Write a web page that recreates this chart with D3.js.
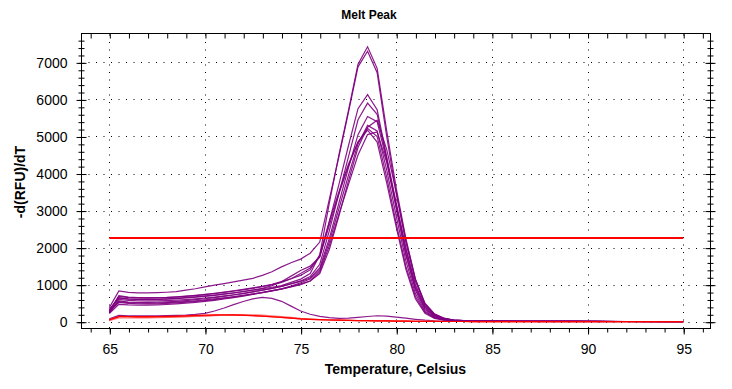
<!DOCTYPE html>
<html lang="en">
<head>
<meta charset="UTF-8">
<title>Melt Peak</title>
<script src="https://d3js.org/d3.v7.min.js"></script>
<style>
  body { margin: 0; background: #fff; }
  text { font-family: "Liberation Sans", Arial, sans-serif; }
</style>
</head>
<body>
<div id="chart"></div>
<script>
// temperature steps (Celsius)
const temps = [65, 65.5, 66, 66.5, 67, 67.5, 68, 68.5, 69, 69.5,
  70, 70.5, 71, 71.5, 72, 72.5, 73, 73.5, 74, 74.5,
  75, 75.5, 76, 76.5, 77, 77.5, 78, 78.5, 79, 79.5,
  80, 80.5, 81, 81.5, 82, 82.5, 83, 83.5, 84, 84.5,
  85, 85.5, 86, 86.5, 87, 87.5, 88, 88.5, 89, 89.5,
  90, 90.5, 91, 91.5, 92, 92.5, 93, 93.5, 94, 94.5, 95];

// -d(RFU)/dT, purple wells
const well1 = [330, 640, 610, 600, 600, 605, 615, 630, 650, 670,
  695, 720, 750, 780, 815, 850, 890, 930, 975, 1060,
  1150, 1300, 1800, 3200, 4500, 5700, 6950, 7420, 6840, 5150,
  3600, 2250, 1150, 480, 200, 90, 45, 30, 22, 18,
  15, 14, 13, 12, 12, 11, 10, 10, 9, 9,
  8, 8, 7, 7, 6, 6, 5, 5, 5, 4, 4];
const well2 = [380, 830, 790, 780, 780, 785, 795, 810, 850, 890,
  940, 985, 1030, 1075, 1120, 1170, 1250, 1350, 1480, 1590,
  1690, 1850, 2150, 3300, 4450, 5650, 6880, 7300, 6720, 5000,
  3450, 2150, 1100, 460, 190, 85, 42, 28, 21, 17,
  15, 13, 12, 12, 11, 10, 10, 9, 9, 8,
  8, 7, 7, 6, 6, 6, 5, 5, 4, 4, 4];
const well3 = [300, 680, 650, 640, 635, 640, 650, 665, 685, 705,
  730, 760, 790, 825, 860, 900, 945, 995, 1060, 1160,
  1300, 1450, 1750, 2700, 3700, 4750, 5750, 6130, 5720, 4450,
  3200, 2000, 1000, 420, 170, 80, 40, 27, 20, 16,
  14, 13, 12, 11, 10, 10, 9, 9, 8, 8,
  7, 7, 6, 6, 6, 5, 5, 5, 4, 4, 4];
const well4 = [260, 560, 530, 520, 520, 525, 535, 550, 570, 595,
  620, 650, 685, 720, 760, 805, 850, 900, 955, 1025,
  1100, 1220, 1550, 2450, 3450, 4450, 5450, 5900, 5600, 4400,
  3100, 1850, 900, 360, 140, 70, 36, 25, 19, 15,
  13, 12, 11, 11, 10, 9, 9, 8, 8, 7,
  7, 7, 6, 6, 5, 5, 5, 4, 4, 4, 3];
const well5 = [240, 600, 575, 565, 560, 562, 570, 582, 598, 618,
  640, 665, 695, 728, 765, 805, 850, 900, 955, 1020,
  1090, 1180, 1450, 2250, 3200, 4150, 5050, 5540, 5400, 4350,
  3050, 1800, 850, 330, 130, 65, 34, 24, 18, 15,
  13, 12, 11, 10, 10, 9, 9, 8, 8, 7,
  7, 6, 6, 6, 5, 5, 5, 4, 4, 4, 3];
const well6 = [280, 520, 495, 485, 482, 485, 495, 508, 525, 545,
  570, 598, 630, 665, 702, 742, 785, 830, 880, 945,
  1020, 1100, 1300, 1950, 2850, 3800, 4700, 5250, 5440, 4650,
  3500, 2200, 1150, 500, 210, 95, 46, 30, 22, 18,
  15, 14, 13, 12, 11, 11, 10, 9, 9, 8,
  8, 7, 7, 6, 6, 6, 5, 5, 5, 4, 4];
const well7 = [220, 470, 455, 450, 450, 455, 465, 480, 500, 522,
  548, 578, 612, 650, 690, 735, 782, 832, 885, 960,
  1050, 1150, 1400, 2150, 3050, 3950, 4800, 5300, 5150, 4100,
  2850, 1650, 760, 290, 110, 55, 30, 21, 17, 14,
  12, 11, 10, 10, 9, 9, 8, 8, 7, 7,
  6, 6, 6, 5, 5, 5, 4, 4, 4, 3, 3];
const well8 = [310, 640, 615, 605, 600, 603, 612, 625, 642, 662,
  685, 712, 742, 775, 812, 852, 900, 970, 1080, 1230,
  1380, 1500, 1750, 2600, 3450, 4200, 4850, 5220, 5000, 3900,
  2650, 1500, 680, 260, 100, 50, 28, 20, 16, 13,
  12, 11, 10, 10, 9, 8, 8, 7, 7, 7,
  6, 6, 5, 5, 5, 4, 4, 4, 4, 3, 3];
const well9 = [270, 700, 665, 652, 648, 650, 658, 672, 690, 712,
  738, 768, 800, 835, 872, 912, 955, 1010, 1080, 1160,
  1250, 1400, 1800, 2700, 3500, 4250, 4850, 5170, 4850, 3750,
  2550, 1420, 620, 230, 90, 45, 26, 19, 15, 13,
  11, 10, 10, 9, 9, 8, 8, 7, 7, 6,
  6, 6, 5, 5, 5, 4, 4, 4, 3, 3, 3];
const well10 = [250, 540, 515, 505, 502, 505, 514, 527, 544, 564,
  588, 615, 645, 678, 714, 753, 795, 840, 888, 940,
  1000, 1100, 1350, 2050, 2900, 3700, 4500, 5050, 5120, 4300,
  3150, 1950, 950, 400, 160, 75, 38, 26, 20, 16,
  14, 13, 12, 11, 10, 10, 9, 9, 8, 8,
  7, 7, 6, 6, 6, 5, 5, 5, 4, 4, 4];
// the one purple well with the small early bump
const well11 = [80, 170, 160, 155, 155, 158, 163, 170, 180, 198,
  225, 290, 370, 460, 545, 615, 655, 630, 550, 420,
  290, 200, 145, 110, 92, 95, 115, 140, 160, 150,
  125, 95, 65, 40, 25, 16, 11, 9, 8, 7,
  6, 6, 5, 5, 5, 4, 4, 4, 4, 3,
  3, 3, 3, 3, 2, 2, 2, 2, 2, 2, 2];

// red wells (negatives)
const redA = [50, 145, 140, 138, 138, 140, 145, 150, 160, 170,
  180, 185, 188, 186, 178, 165, 150, 134, 117, 95,
  75, 62, 54, 46, 40, 35, 31, 28, 25, 21,
  17, 13, 10, 8, 7, 6, 5, 5, 4, 4,
  4, 3, 3, 3, 3, 3, 2, 2, 2, 2,
  2, 2, 2, 2, 2, 1, 1, 1, 1, 1, 1];
const redB = [30, 100, 100, 102, 105, 110, 115, 122, 130, 140,
  150, 165, 178, 185, 188, 185, 175, 160, 140, 115,
  90, 72, 58, 48, 41, 36, 32, 28, 25, 21,
  17, 13, 10, 8, 7, 6, 5, 5, 4, 4,
  4, 3, 3, 3, 3, 3, 2, 2, 2, 2,
  2, 2, 2, 2, 2, 1, 1, 1, 1, 1, 1];
const redC = [45, 130, 128, 126, 126, 128, 132, 138, 145, 155,
  165, 172, 176, 176, 170, 160, 147, 132, 115, 96,
  78, 64, 54, 46, 40, 35, 31, 28, 25, 21,
  17, 13, 10, 8, 7, 6, 5, 5, 4, 4,
  4, 3, 3, 3, 3, 3, 2, 2, 2, 2,
  2, 2, 2, 2, 2, 1, 1, 1, 1, 1, 1];

const threshold = 2260;

const xTickLabels = [65, 70, 75, 80, 85, 90, 95];
const yTickLabels = [0, 1000, 2000, 3000, 4000, 5000, 6000, 7000];

const purpleWells = [well1, well2, well3, well4, well5, well6, well7, well8, well9, well10, well11];
const redWells = [redB, redC, redA];
const redColors = ["#ff7a7a", "#ff3030", "#ff0000"];

const W = 732, H = 389;
const pLeft = 81, pRight = 710, pTop = 33, pBottom = 328;

const svg = d3.select("#chart").append("svg")
    .attr("width", W)
    .attr("height", H);

const x = d3.scaleLinear().domain([63.52, 96.4]).range([pLeft, pRight]);
const y = d3.scaleLinear().domain([-170, 7793]).range([pBottom, pTop]);

svg.append("defs").append("clipPath")
    .attr("id", "clip")
    .append("rect")
    .attr("x", pLeft).attr("y", pTop)
    .attr("width", pRight - pLeft).attr("height", pBottom - pTop);

// dotted grid
const grid = svg.append("g").attr("stroke", "#000").attr("stroke-width", 1)
    .attr("stroke-dasharray", "1,6.5");
grid.selectAll(".gx").data(xTickLabels).join("line")
    .attr("x1", d => Math.round(x(d)) + 0.5).attr("x2", d => Math.round(x(d)) + 0.5)
    .attr("y1", pBottom).attr("y2", pTop);
grid.selectAll(".gy").data(yTickLabels).join("line")
    .attr("y1", d => Math.round(y(d)) + 0.5).attr("y2", d => Math.round(y(d)) + 0.5)
    .attr("x1", pLeft).attr("x2", pRight);

// curves
const line = d3.line()
    .x((d, i) => x(temps[i]))
    .y(d => y(d));

const curves = svg.append("g").attr("clip-path", "url(#clip)").attr("fill", "none");

curves.selectAll(".purple").data(purpleWells).join("path")
    .attr("d", line)
    .attr("stroke", "#800080")
    .attr("stroke-opacity", 0.9)
    .attr("stroke-width", 1.2);

curves.selectAll(".red").data(redWells).join("path")
    .attr("d", line)
    .attr("stroke", (d, i) => redColors[i])
    .attr("stroke-width", 1.2);

curves.append("line")
    .attr("x1", x(65)).attr("x2", x(95))
    .attr("y1", y(threshold)).attr("y2", y(threshold))
    .attr("stroke", "#ff0000")
    .attr("stroke-width", 2);

// frame
svg.append("rect")
    .attr("x", pLeft + 0.5).attr("y", pTop + 0.5)
    .attr("width", pRight - pLeft).attr("height", pBottom - pTop)
    .attr("fill", "none").attr("stroke", "#000");

// axes with ticks
const xMinor = d3.range(64, 97);
const yMinor = d3.range(0, 7800, 200);

function ticksStyle(g) {
    g.select(".domain").remove();
    g.selectAll("line").attr("stroke", "#000");
    g.selectAll("text").attr("fill", "#000").style("font-size", "14px");
}

// bottom
svg.append("g").attr("transform", `translate(0.5,${pBottom + 0.5})`)
    .call(d3.axisBottom(x).tickValues(xMinor).tickSize(4).tickFormat(""))
    .call(ticksStyle);
svg.append("g").attr("transform", `translate(0.5,${pBottom + 0.5})`)
    .call(d3.axisBottom(x).tickValues(xTickLabels).tickSize(6).tickPadding(10).tickFormat(d3.format("d")))
    .call(ticksStyle);
// top (inward)
svg.append("g").attr("transform", `translate(0.5,${pTop + 0.5})`)
    .call(d3.axisBottom(x).tickValues(xMinor).tickSize(5).tickFormat(""))
    .call(ticksStyle);

// left (crossing the frame)
svg.append("g").attr("transform", `translate(${pLeft + 0.5},0.5)`)
    .call(d3.axisLeft(y).tickValues(yMinor).tickSize(3).tickFormat(""))
    .call(ticksStyle)
    .selectAll("line").attr("x1", 3);
svg.append("g").attr("transform", `translate(${pLeft + 0.5},0.5)`)
    .call(d3.axisLeft(y).tickValues(yTickLabels).tickSize(5).tickPadding(9).tickFormat(d3.format("d")))
    .call(ticksStyle)
    .selectAll("line").attr("x1", 5);
// right
svg.append("g").attr("transform", `translate(${pRight + 0.5},0.5)`)
    .call(d3.axisRight(y).tickValues(yMinor).tickSize(3).tickFormat(""))
    .call(ticksStyle)
    .selectAll("line").attr("x1", -3);
svg.append("g").attr("transform", `translate(${pRight + 0.5},0.5)`)
    .call(d3.axisRight(y).tickValues(yTickLabels).tickSize(5).tickFormat(""))
    .call(ticksStyle)
    .selectAll("line").attr("x1", -5);

// titles
svg.append("text")
    .attr("x", 369).attr("y", 19)
    .attr("text-anchor", "middle")
    .style("font-size", "12px").style("font-weight", "bold")
    .text("Melt Peak");

svg.append("text")
    .attr("x", (pLeft + pRight) / 2).attr("y", 374)
    .attr("text-anchor", "middle")
    .style("font-size", "14px").style("font-weight", "bold")
    .text("Temperature, Celsius");

svg.append("text")
    .attr("transform", "translate(20,182) rotate(-90)")
    .attr("text-anchor", "middle")
    .attr("dy", "0.35em")
    .style("font-size", "14px").style("font-weight", "bold")
    .text("-d(RFU)/dT");
</script>
</body>
</html>
